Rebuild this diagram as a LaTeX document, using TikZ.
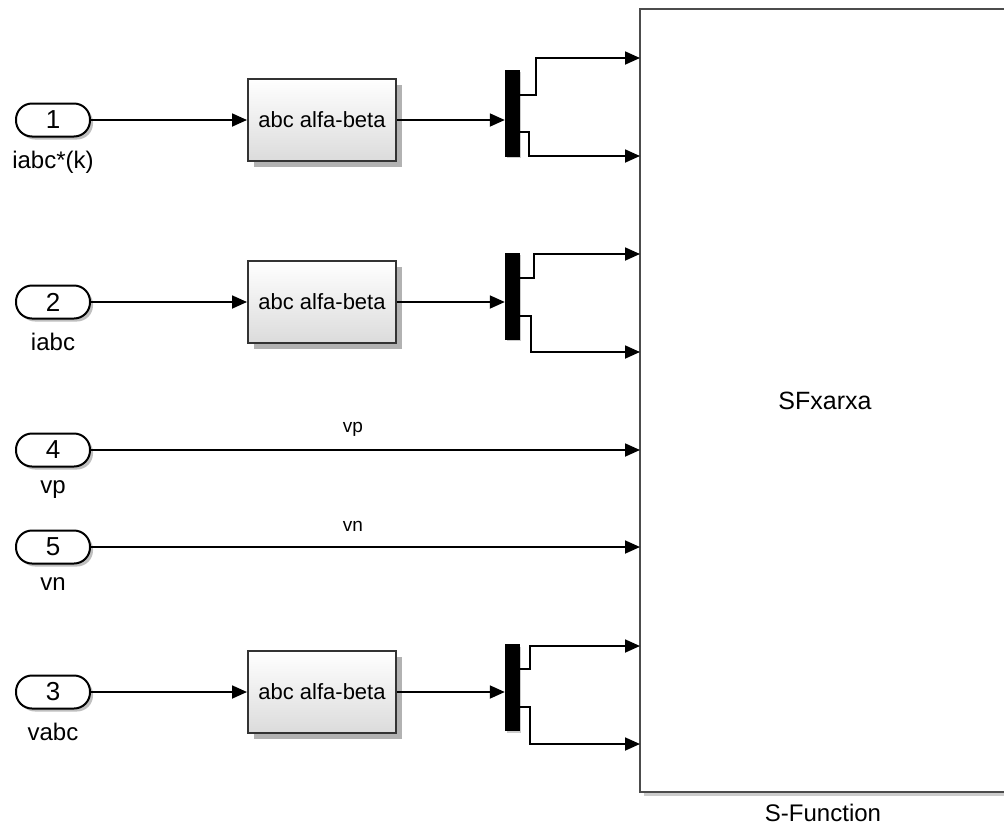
\documentclass[tikz,border=0pt]{standalone}
\usepackage{fontspec}
\setmainfont{Liberation Sans}
\usetikzlibrary{arrows.meta,shadows,positioning}
\begin{document}
\begin{tikzpicture}[x=1pt,y=-1pt,
  sig/.style={line width=1.8pt,draw=black,-{Triangle[length=15pt,width=13pt]}},
  inport/.style={draw=black,line width=2pt,fill=white,rounded corners=16pt,
    minimum width=74pt,minimum height=33pt,inner sep=0pt,
    font=\fontsize{26}{26}\selectfont,
    drop shadow={shadow xshift=3pt,shadow yshift=-3pt,fill=black,opacity=0.25}},
  lab/.style={font=\fontsize{24}{26}\selectfont,inner sep=1pt},
  siglab/.style={font=\fontsize{19}{20}\selectfont,inner sep=0pt},
  blk/.style={draw=black!80,line width=2pt,top color=white,bottom color=black!14,
    minimum width=148pt,minimum height=82pt,inner sep=0pt,
    font=\fontsize{22}{22}\selectfont,
    drop shadow={shadow xshift=6pt,shadow yshift=-6pt,fill=black,opacity=0.3}},
  demux/.style={fill=black,draw=black,minimum width=14pt,minimum height=86pt,inner sep=0pt,
    drop shadow={shadow xshift=2pt,shadow yshift=-2pt,fill=black,opacity=0.2}},
  sfun/.style={draw=black!70,line width=2.4pt,fill=white,minimum width=370pt,minimum height=783pt,
    inner sep=0pt,font=\fontsize{25}{26}\selectfont,
    drop shadow={shadow xshift=4pt,shadow yshift=-4pt,fill=black,opacity=0.2}}
]
\useasboundingbox (0,0) rectangle (1004,828);
\fill[white] (0,0) rectangle (1004,828);
\clip (0,0) rectangle (1004,828);

% S-Function
\node[sfun] (sf) at (825,400.5) {SFxarxa};
\node[lab] (sflab) at (823,813) {S-Function};
\coordinate (p1) at (640,58);
\coordinate (p2) at (640,156);
\coordinate (p3) at (640,254);
\coordinate (p4) at (640,352);
\coordinate (p5) at (640,450);
\coordinate (p6) at (640,547);
\coordinate (p7) at (640,646);
\coordinate (p8) at (640,744);

% inports
\node[inport] (in1) at (53,120) {1};
\node[lab,below=12pt of in1] (l1) {iabc*(k)};
\node[inport] (in2) at (53,302) {2};
\node[lab,below=12pt of in2] (l2) {iabc};
\node[inport] (in4) at (53,450) {4};
\node[lab,below=12pt of in4] (l4) {vp};
\node[inport] (in5) at (53,547) {5};
\node[lab,below=12pt of in5] (l5) {vn};
\node[inport] (in3) at (53,692) {3};
\node[lab,below=12pt of in3] (l3) {vabc};

% blocks
\node[blk] (b1) at (322,120) {abc alfa-beta};
\node[blk] (b2) at (322,302) {abc alfa-beta};
\node[blk] (b3) at (322,692) {abc alfa-beta};

% demuxes
\node[demux] (d1) at (512,113) {};
\node[demux] (d2) at (512,296) {};
\node[demux] (d3) at (512,687.5) {};

% connections
\draw[sig] (in1.east) -- (b1.west);
\draw[sig] (in2.east) -- (b2.west);
\draw[sig] (in3.east) -- (b3.west);
\draw[sig] (b1.east) -- (b1.east -| d1.west);
\draw[sig] (b2.east) -- (b2.east -| d2.west);
\draw[sig] (b3.east) -- (b3.east -| d3.west);

\coordinate (d1a) at (519,95);
\coordinate (d1b) at (519,132);
\coordinate (d2a) at (519,278);
\coordinate (d2b) at (519,316);
\coordinate (d3a) at (519,669);
\coordinate (d3b) at (519,707);

\draw[sig] (d1a) -- (536,95) |- (p1);
\draw[sig] (d1b) -- (529,132) |- (p2);
\draw[sig] (d2a) -- (534,278) |- (p3);
\draw[sig] (d2b) -- (531,316) |- (p4);
\draw[sig] (d3a) -- (530,669) |- (p7);
\draw[sig] (d3b) -- (530,707) |- (p8);

\draw[sig] (in4.east) -- (p5);
\draw[sig] (in5.east) -- (p6);
\node[siglab] (vpl) at (353,429) {vp};
\node[siglab] (vnl) at (353,526) {vn};
\end{tikzpicture}
\end{document}
